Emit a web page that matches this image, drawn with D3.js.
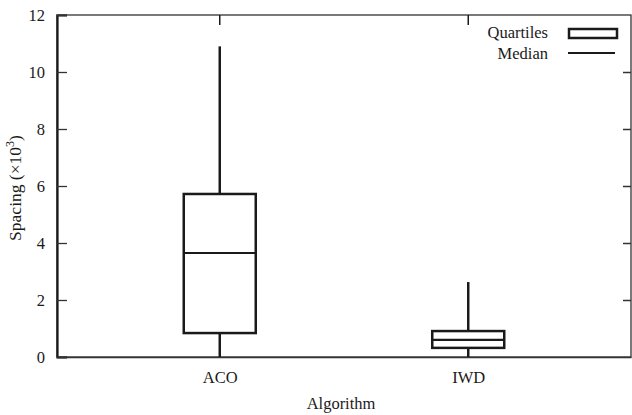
<!DOCTYPE html>
<html>
<head>
<meta charset="utf-8">
<script src="https://cdn.jsdelivr.net/npm/d3@7"></script>
<style>
  body { margin: 0; background: #fff; }
  text { font-family: "Liberation Serif", "DejaVu Serif", serif; fill: #1a1a1a; }
</style>
</head>
<body>
<div id="chart-area"></div>
<script>
// data (Spacing, x10^3)
let algorithms = ["ACO", "IWD"];
let whiskerLow = [0, 0];
let quartile1 = [0.84, 0.32];
let medians = [3.65, 0.6];
let quartile3 = [5.72, 0.91];
let whiskerHigh = [10.9, 2.63];
let yTicks = [0, 2, 4, 6, 8, 10, 12];

let w = 632;
let h = 415;
let margin = {top: 15, right: 1, bottom: 58, left: 57};
let fontSize = 16.5;

let svg = d3.select("#chart-area")
    .append("svg")
    .attr("width", w)
    .attr("height", h);

let dataset = algorithms.map((a, i) => {
    return {name: a, lo: whiskerLow[i], q1: quartile1[i], med: medians[i], q3: quartile3[i], hi: whiskerHigh[i]};
});

let xScale = d3.scalePoint()
    .domain(algorithms)
    .range([margin.left, w - margin.right])
    .padding(0.655);

let yScale = d3.scaleLinear()
    .domain([0, 12])
    .range([h - margin.bottom, margin.top]);

let boxW = 72;
let stroke = "#1a1a1a";

// frame
svg.append("rect")
    .attr("x", margin.left)
    .attr("y", margin.top)
    .attr("width", w - margin.right - margin.left)
    .attr("height", h - margin.bottom - margin.top)
    .attr("fill", "none")
    .attr("stroke", "#333")
    .attr("stroke-width", 1.3);

// left axis
let yAxis = d3.axisLeft(yScale).tickValues(yTicks).tickSize(-10).tickPadding(12);
let gy = svg.append("g")
    .attr("transform", "translate(" + margin.left + ",0)")
    .call(yAxis);
gy.select(".domain").attr("stroke", stroke).attr("stroke-width", 2.2);
gy.selectAll(".tick line").attr("stroke", "#333").attr("stroke-width", 1.3);
gy.selectAll("text").attr("font-size", fontSize).attr("fill", "#1a1a1a")
    .style("font-family", "Liberation Serif");

// right mirror ticks
let gr = svg.append("g")
    .attr("transform", "translate(" + (w - margin.right) + ",0)")
    .call(d3.axisRight(yScale).tickValues(yTicks.slice(1, -1)).tickSize(-8).tickFormat(""));
gr.select(".domain").remove();
gr.selectAll(".tick line").attr("stroke", "#333").attr("stroke-width", 1.5);

// bottom axis
let xAxis = d3.axisBottom(xScale).tickSize(0).tickPadding(14);
let gx = svg.append("g")
    .attr("transform", "translate(0," + (h - margin.bottom) + ")")
    .call(xAxis);
gx.select(".domain").attr("stroke", "#333").attr("stroke-width", 1.3);
gx.selectAll("text").attr("font-size", fontSize).attr("fill", "#1a1a1a")
    .style("font-family", "Liberation Serif");

// top mirror ticks
svg.selectAll(".topTick")
    .data(algorithms)
    .enter()
    .append("line")
    .attr("x1", (d) => xScale(d))
    .attr("x2", (d) => xScale(d))
    .attr("y1", margin.top)
    .attr("y2", margin.top + 10)
    .attr("stroke", stroke)
    .attr("stroke-width", 1.5);

// whiskers
let boxes = svg.selectAll(".box")
    .data(dataset)
    .enter()
    .append("g");

boxes.append("line")
    .attr("x1", (d) => xScale(d.name))
    .attr("x2", (d) => xScale(d.name))
    .attr("y1", (d) => yScale(d.lo))
    .attr("y2", (d) => yScale(d.q1))
    .attr("stroke", stroke)
    .attr("stroke-width", 2.5);

boxes.append("line")
    .attr("x1", (d) => xScale(d.name))
    .attr("x2", (d) => xScale(d.name))
    .attr("y1", (d) => yScale(d.q3))
    .attr("y2", (d) => yScale(d.hi))
    .attr("stroke", stroke)
    .attr("stroke-width", 2.5);

boxes.append("rect")
    .attr("x", (d) => xScale(d.name) - boxW / 2)
    .attr("y", (d) => yScale(d.q3))
    .attr("width", boxW)
    .attr("height", (d) => yScale(d.q1) - yScale(d.q3))
    .attr("fill", "none")
    .attr("stroke", stroke)
    .attr("stroke-width", 2.5);

boxes.append("line")
    .attr("x1", (d) => xScale(d.name) - boxW / 2)
    .attr("x2", (d) => xScale(d.name) + boxW / 2)
    .attr("y1", (d) => yScale(d.med))
    .attr("y2", (d) => yScale(d.med))
    .attr("stroke", stroke)
    .attr("stroke-width", 2.2);

// legend
let legend = svg.append("g");
legend.append("text")
    .attr("x", 548)
    .attr("y", 38)
    .attr("text-anchor", "end")
    .attr("font-size", fontSize)
    .text("Quartiles");
legend.append("rect")
    .attr("x", 569)
    .attr("y", 29)
    .attr("width", 48)
    .attr("height", 9)
    .attr("fill", "none")
    .attr("stroke", stroke)
    .attr("stroke-width", 2.5);
legend.append("text")
    .attr("x", 548)
    .attr("y", 59)
    .attr("text-anchor", "end")
    .attr("font-size", fontSize)
    .text("Median");
legend.append("line")
    .attr("x1", 568)
    .attr("x2", 615)
    .attr("y1", 53)
    .attr("y2", 53)
    .attr("stroke", stroke)
    .attr("stroke-width", 2.2);

// axis titles
svg.append("text")
    .attr("x", 341)
    .attr("y", 409)
    .attr("text-anchor", "middle")
    .attr("font-size", fontSize)
    .text("Algorithm");

let yt = svg.append("text")
    .attr("transform", "translate(21," + 188 + ") rotate(-90)")
    .attr("text-anchor", "middle")
    .attr("font-size", 17.5);
yt.append("tspan").text("Spacing (×10");
yt.append("tspan").attr("font-size", 12).attr("dy", -7).text("3");
yt.append("tspan").attr("dy", 7).text(")");
</script>
</body>
</html>
